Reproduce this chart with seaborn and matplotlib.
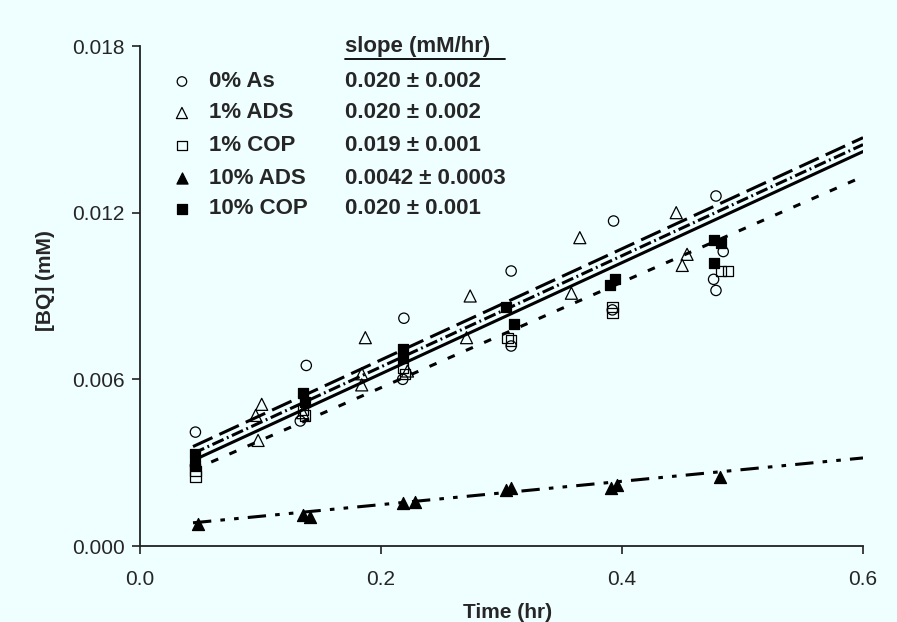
import numpy as np
import pandas as pd
import matplotlib
matplotlib.use("Agg")
import matplotlib.pyplot as plt
import seaborn as sns

# ---- data -------------------------------------------------------------
series_names = ["0% As", "1% ADS", "1% COP", "10% ADS", "10% COP"]
slope_labels = ["0.020 \u00b1 0.002", "0.020 \u00b1 0.002", "0.019 \u00b1 0.001",
                "0.0042 \u00b1 0.0003", "0.020 \u00b1 0.001"]

as0_t = [0.046, 0.046, 0.138, 0.133, 0.219, 0.218, 0.308, 0.308, 0.393, 0.392, 0.478, 0.484, 0.476, 0.478]
as0_v = [0.0041, 0.0029, 0.0065, 0.0045, 0.0082, 0.0060, 0.0099, 0.0072, 0.0117, 0.0085, 0.0126, 0.0106, 0.0096, 0.0092]

ads1_t = [0.101, 0.096, 0.098, 0.135, 0.187, 0.184, 0.184, 0.222, 0.274, 0.271, 0.365, 0.358, 0.445, 0.454, 0.450]
ads1_v = [0.0051, 0.0047, 0.0038, 0.0048, 0.0075, 0.0062, 0.0058, 0.0063, 0.0090, 0.0075, 0.0111, 0.0091, 0.0120, 0.0105, 0.0101]

cop1_t = [0.046, 0.046, 0.135, 0.137, 0.218, 0.220, 0.305, 0.308, 0.392, 0.392, 0.482, 0.488]
cop1_v = [0.0027, 0.0025, 0.0049, 0.0047, 0.0064, 0.0062, 0.0075, 0.0074, 0.0086, 0.0084, 0.0099, 0.0099]

ads10_t = [0.048, 0.135, 0.141, 0.218, 0.228, 0.304, 0.308, 0.391, 0.396, 0.481]
ads10_v = [0.0008, 0.0011, 0.00105, 0.00155, 0.0016, 0.0020, 0.0021, 0.0021, 0.0022, 0.0025]

cop10_t = [0.046, 0.046, 0.135, 0.137, 0.218, 0.218, 0.304, 0.310, 0.390, 0.394, 0.476, 0.482, 0.476]
cop10_v = [0.0033, 0.0029, 0.0055, 0.0052, 0.0071, 0.0068, 0.0086, 0.0080, 0.0094, 0.0096, 0.0110, 0.0109, 0.0102]

# linear trend lines: slope (mM/hr) and intercept (mM)
trend_slopes = [0.020, 0.020, 0.019, 0.0042, 0.020]
trend_intercepts = [0.0027, 0.00245, 0.0019, 0.00065, 0.0022]
trend_t0 = 0.044
trend_t1 = 0.6

x_ticks = [0.0, 0.2, 0.4, 0.6]
y_ticks = [0.000, 0.006, 0.012, 0.018]

# ---- tables -------------------------------------------------------------
pts = pd.concat([
    pd.DataFrame({"t": t, "v": v, "series": name})
    for name, t, v in zip(series_names,
                          [as0_t, ads1_t, cop1_t, ads10_t, cop10_t],
                          [as0_v, ads1_v, cop1_v, ads10_v, cop10_v])
], ignore_index=True)

lines = pd.concat([
    pd.DataFrame({"t": [trend_t0, trend_t1],
                  "v": [b + m * trend_t0, b + m * trend_t1],
                  "series": name})
    for name, m, b in zip(series_names, trend_slopes, trend_intercepts)
], ignore_index=True)

# ---- style ------------------------------------------------------------
bg = "#EFFEFE"
sns.set_style("ticks")
plt.rcParams["font.family"] = ["Liberation Sans", "DejaVu Sans"]

fig = plt.figure(figsize=(8.97, 6.22), dpi=100, facecolor=bg)
ax = fig.add_axes([140 / 897, 76 / 622, 723 / 897, 500 / 622])
ax.set_facecolor(bg)

dash_map = {
    "0% As": (7, 2.5),
    "1% ADS": (4, 1.2, 0.6, 1.2),
    "1% COP": (2.5, 4),
    "10% ADS": (6, 3, 1.5, 3, 1.5, 3),
    "10% COP": "",
}
sns.lineplot(data=lines, x="t", y="v", style="series", dashes=dash_map,
             color="black", linewidth=2.2, legend=False, ax=ax,
             estimator=None, sort=False)

marker_map = {"0% As": "o", "1% ADS": "^", "1% COP": "s", "10% ADS": "^", "10% COP": "s"}
face_map = {"0% As": "none", "1% ADS": "none", "1% COP": "none",
            "10% ADS": "black", "10% COP": "black"}
size_map = {"0% As": 55, "1% ADS": 75, "1% COP": 55, "10% ADS": 75, "10% COP": 60}

for name in series_names:
    sub = pts[pts["series"] == name]
    filled = face_map[name] != "none"
    sns.scatterplot(data=sub, x="t", y="v", marker=marker_map[name],
                    s=size_map[name], ax=ax, legend=False, zorder=3,
                    facecolor=face_map[name] if filled else "none",
                    edgecolor="black", linewidth=0.9)

# ---- axes ---------------------------------------------------------------
ax.set_xlim(0, 0.6)
ax.set_ylim(0, 0.018)
ax.set_xticks(x_ticks)
ax.set_yticks(y_ticks)
ax.set_xticklabels([f"{v:.1f}" for v in x_ticks])
ax.set_yticklabels([f"{v:.3f}" for v in y_ticks])
ax.tick_params(axis="both", labelsize=15, length=6, width=1.2, color="#222222")
ax.tick_params(axis="x", pad=11)
ax.tick_params(axis="y", pad=5)
for side in ["top", "right"]:
    ax.spines[side].set_visible(False)
for side in ["left", "bottom"]:
    ax.spines[side].set_linewidth(1.3)
    ax.spines[side].set_color("#222222")

ax.set_xlabel("Time (hr)", fontsize=15, fontweight="bold")
ax.set_ylabel("[BQ] (mM)", fontsize=15, fontweight="bold")
ax.xaxis.set_label_coords(0.509, -0.114)
ax.yaxis.set_label_coords(-0.118, 0.53)

# ---- key with slopes ------------------------------------------------------
tr = ax.transAxes
key_fs = 16
ax.text(0.2835, 0.999, "slope (mM/hr)", transform=tr, fontsize=key_fs,
        fontweight="bold", ha="left", va="center")
ax.plot([0.2835, 0.505], [0.974, 0.974], transform=tr, color="black",
        linewidth=1.3, clip_on=False)
row_y = [0.929, 0.866, 0.801, 0.736, 0.675]
for name, sl, y in zip(series_names, slope_labels, row_y):
    ax.scatter([0.058], [y], transform=tr, marker=marker_map[name],
               s=size_map[name] * 0.85, facecolor=face_map[name],
               edgecolor="black", linewidth=0.9, clip_on=False, zorder=4)
    ax.text(0.0954, y, name, transform=tr, fontsize=key_fs, fontweight="bold",
            ha="left", va="center")
    ax.text(0.2835, y, sl, transform=tr, fontsize=key_fs, fontweight="bold",
            ha="left", va="center")

fig.savefig("out.png", dpi=100, facecolor=bg)
